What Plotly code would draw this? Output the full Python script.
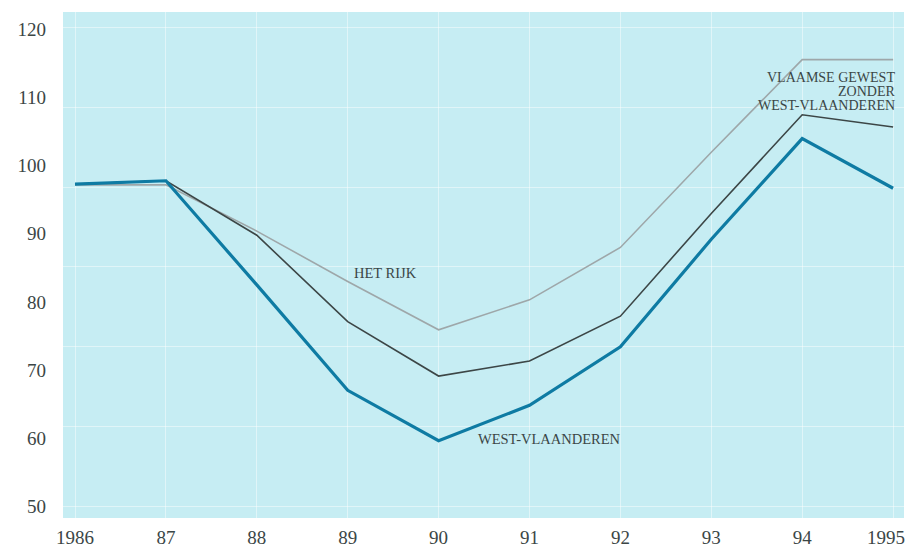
import plotly.graph_objects as go

years = [1986, 1987, 1988, 1989, 1990, 1991, 1992, 1993, 1994, 1995]
tick_labels = ["1986", "87", "88", "89", "90", "91", "92", "93", "94", ""]
last_year_label = ["1995"]
het_rijk = [97.2, 97.2, 90.4, 83.0, 75.9, 80.3, 88.0, 102.0, 115.6, 115.6]
vlaams_zonder_wvl = [97.3, 97.8, 89.8, 77.1, 69.1, 71.3, 77.9, 93.0, 107.5, 105.7]
west_vlaanderen = [97.3, 97.8, 82.5, 67.0, 59.6, 64.8, 73.4, 89.2, 104.0, 96.7]
y_ticks = [50, 60, 70, 80, 90, 100, 110, 120]

TEXT = "#3b4646"
SERIF = "Liberation Serif, DejaVu Serif, serif"
GRID = "rgba(255,255,255,0.45)"
XR = [1985.868, 1995.12]

fig = go.Figure()
fig.add_trace(go.Scatter(x=years, y=het_rijk, mode="lines",
                         line=dict(color="#9ea7a9", width=1.6), name="Het Rijk"))
fig.add_trace(go.Scatter(x=years, y=vlaams_zonder_wvl, mode="lines",
                         line=dict(color="#3c4646", width=1.6),
                         name="Vlaamse Gewest zonder West-Vlaanderen"))
fig.add_trace(go.Scatter(x=years, y=west_vlaanderen, mode="lines",
                         line=dict(color="#0e7ba3", width=3.2), name="West-Vlaanderen"))
# helper trace so the background grid axis and the shifted last label are drawn
fig.add_trace(go.Scatter(x=[None], y=[None], xaxis="x2", yaxis="y2",
                         showlegend=False, hoverinfo="skip"))

ann_font = dict(family=SERIF, size=14.5, color=TEXT)
fig.add_annotation(x=1989.42, y=84.2, text="HET RIJK", showarrow=False, font=ann_font,
                   xanchor="center", yanchor="middle", borderpad=0)
fig.add_annotation(x=1991.22, y=59.85, text="WEST-VLAANDEREN", showarrow=False, font=ann_font,
                   xanchor="center", yanchor="middle", borderpad=0)
block_font = dict(family=SERIF, size=14, color=TEXT)
for txt, yv in [("VLAAMSE GEWEST", 112.95), ("ZONDER", 110.9), ("WEST-VLAANDEREN", 108.85)]:
    fig.add_annotation(x=1995.03, y=yv, text=txt, showarrow=False, font=block_font,
                       xanchor="right", yanchor="middle", borderpad=0)

tick_font = dict(family=SERIF, size=19, color=TEXT)
fig.update_layout(
    width=907, height=550,
    margin=dict(l=63, r=2, t=12, b=30),
    paper_bgcolor="white",
    plot_bgcolor="#c6edf3",
    showlegend=False,
    xaxis=dict(range=XR, tickvals=years, ticktext=tick_labels,
               showgrid=True, gridcolor=GRID, gridwidth=1.2,
               zeroline=False, showline=False, ticks="",
               tickfont=tick_font, ticklabelstandoff=6),
    xaxis2=dict(range=XR, overlaying="x", side="bottom", tickvals=[1995],
                ticktext=last_year_label, showgrid=False, zeroline=False,
                showline=False, ticks="", tickfont=tick_font,
                ticklabelstandoff=6, ticklabelshift=-7),
    yaxis=dict(range=[48.24, 122.6], tickvals=y_ticks,
               showgrid=False, zeroline=False, showline=False, ticks="",
               tickfont=tick_font, ticklabelstandoff=16),
    yaxis2=dict(range=[-0.15, 6.2], dtick=1, overlaying="y", side="left",
                showgrid=True, gridcolor=GRID, gridwidth=1.2,
                showticklabels=False, zeroline=False, showline=False, ticks=""),
)

fig.write_html("out.html", config={"displayModeBar": False},
               post_script="document.body.style.margin='0';")
